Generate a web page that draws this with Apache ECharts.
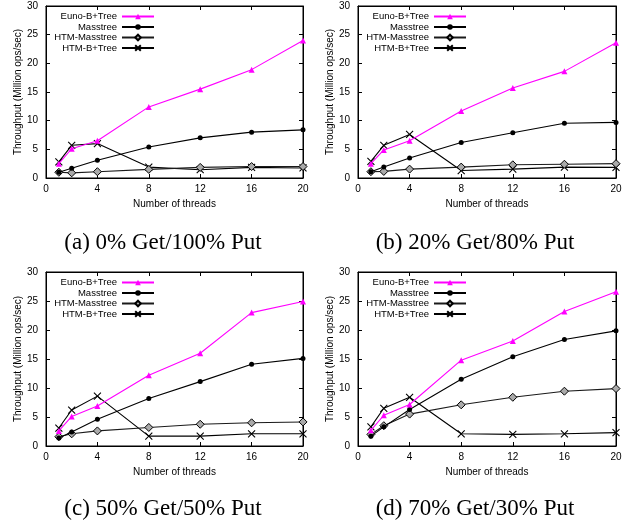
<!DOCTYPE html>
<html>
<head>
<meta charset="utf-8">
<script src="https://cdn.jsdelivr.net/npm/echarts@6/dist/echarts.min.js"></script>
<style>
  html, body { margin: 0; padding: 0; background: #fff; }
  #main { width: 627px; height: 523px; }
</style>
</head>
<body>
<div id="main"></div>
<script>
// threads on the x axis
const threads = [1, 2, 4, 8, 12, 16, 20]
const seriesNames = ['Euno-B+Tree', 'Masstree', 'HTM-Masstree', 'HTM-B+Tree']
const xTicks = [0, 4, 8, 12, 16, 20]
const yTicks = [0, 5, 10, 15, 20, 25, 30]

// (a) 0% Get / 100% Put
const eunoA = [2.5, 5.1, 6.5, 12.4, 15.5, 18.9, 24.0]
const massA = [1.0, 1.7, 3.1, 5.4, 7.0, 8.0, 8.4]
const htmMassA = [1.0, 0.9, 1.1, 1.5, 1.85, 2.0, 2.0]
const htmBtA = [2.8, 5.7, 6.0, 1.9, 1.45, 1.85, 1.75]

// (b) 20% Get / 80% Put
const eunoB = [2.5, 4.9, 6.5, 11.7, 15.7, 18.6, 23.6]
const massB = [1.1, 1.9, 3.5, 6.2, 7.9, 9.55, 9.7]
const htmMassB = [1.1, 1.15, 1.55, 1.9, 2.3, 2.4, 2.5]
const htmBtB = [2.9, 5.7, 7.6, 1.3, 1.55, 1.9, 1.85]

// (c) 50% Get / 50% Put
const eunoC = [2.6, 5.1, 6.9, 12.2, 16.0, 23.0, 24.9]
const massC = [1.4, 2.4, 4.6, 8.2, 11.1, 14.1, 15.1]
const htmMassC = [1.6, 2.1, 2.6, 3.2, 3.75, 4.0, 4.15]
const htmBtC = [3.1, 6.2, 8.6, 1.7, 1.7, 2.1, 2.1]

// (d) 70% Get / 30% Put
const eunoD = [2.7, 5.3, 7.15, 14.8, 18.1, 23.2, 26.6]
const massD = [1.7, 3.3, 6.3, 11.5, 15.4, 18.35, 19.85]
const htmMassD = [2.0, 3.5, 5.5, 7.1, 8.4, 9.45, 9.9]
const htmBtD = [3.3, 6.5, 8.4, 2.1, 2.0, 2.1, 2.3]

const captions = ['(a) 0% Get/100% Put', '(b) 20% Get/80% Put', '(c) 50% Get/50% Put', '(d) 70% Get/30% Put']
const panelData = [
  [eunoA, massA, htmMassA, htmBtA],
  [eunoB, massB, htmMassB, htmBtB],
  [eunoC, massC, htmMassC, htmBtC],
  [eunoD, massD, htmMassD, htmBtD]
]

// layout of the four panels
const W = 627
const panels = [
  { left: 46, top: 6, width: 257, height: 172, capX: 163, capY: 231 },
  { left: 358, top: 6, width: 258, height: 172, capX: 475, capY: 231 },
  { left: 46, top: 272, width: 257, height: 174, capX: 163, capY: 497 },
  { left: 358, top: 272, width: 258, height: 174, capX: 475, capY: 497 }
]

const sans = 'Liberation Sans'
const crossPath = 'path://M0,0L10,10M10,0L0,10'

const styles = [
  { color: '#ff00ff', symbol: 'triangle', symbolSize: 6, fill: '#ff00ff', border: 0 },
  { color: '#000', symbol: 'circle', symbolSize: 5, fill: '#000', border: 0 },
  { color: '#1a1a1a', symbol: 'diamond', symbolSize: 8, fill: '#aaa', border: 1 },
  { color: '#000', symbol: crossPath, symbolSize: 7, fill: '#000', border: 1.1 }
]

const grid = []
const xAxis = []
const yAxis = []
const series = []
const legend = []
const title = []

const tickStyle = { inside: true, length: 4, lineStyle: { color: '#000', width: 1 } }

panels.forEach((p, i) => {
  grid.push({
    left: p.left, top: p.top, width: p.width, height: p.height,
    show: true, borderColor: '#000', borderWidth: 1, backgroundColor: 'transparent'
  })
  // main axes
  xAxis.push({
    type: 'value', gridIndex: i, min: xTicks[0], max: xTicks[xTicks.length - 1], interval: 4,
    position: 'bottom',
    name: 'Number of threads', nameLocation: 'middle', nameGap: 21,
    nameTextStyle: { fontFamily: sans, fontSize: 10, color: '#000' },
    axisLine: { show: true, onZero: false, lineStyle: { color: '#000', width: 1 } },
    axisTick: tickStyle,
    axisLabel: { fontFamily: sans, fontSize: 10, color: '#000', margin: 6 },
    splitLine: { show: false }
  })
  yAxis.push({
    type: 'value', gridIndex: i, min: yTicks[0], max: yTicks[yTicks.length - 1], interval: 5,
    position: 'left',
    name: 'Throughput (Million ops/sec)', nameLocation: 'middle', nameGap: 23,
    nameTextStyle: { fontFamily: sans, fontSize: 10, color: '#000' },
    axisLine: { show: true, onZero: false, lineStyle: { color: '#000', width: 1 } },
    axisTick: tickStyle,
    axisLabel: { fontFamily: sans, fontSize: 10, color: '#000', margin: 8 },
    splitLine: { show: false }
  })
  // mirrored ticks on top and right
  xAxis.push({
    type: 'value', gridIndex: i, min: 0, max: 20, interval: 4, position: 'top',
    axisLine: { show: true, onZero: false, lineStyle: { color: '#000', width: 1 } },
    axisTick: tickStyle, axisLabel: { show: false }, splitLine: { show: false }
  })
  yAxis.push({
    type: 'value', gridIndex: i, min: 0, max: 30, interval: 5, position: 'right',
    axisLine: { show: true, onZero: false, lineStyle: { color: '#000', width: 1 } },
    axisTick: tickStyle, axisLabel: { show: false }, splitLine: { show: false }
  })

  panelData[i].forEach((vals, k) => {
    const s = styles[k]
    series.push({
      name: seriesNames[k],
      type: 'line',
      xAxisIndex: i * 2,
      yAxisIndex: i * 2,
      data: threads.map((t, j) => [t, vals[j]]),
      symbol: s.symbol,
      symbolSize: s.symbolSize,
      showAllSymbol: true,
      z: 10 - k,
      lineStyle: { color: s.color, width: 1.1 },
      itemStyle: { color: s.fill, borderColor: '#000', borderWidth: s.border },
      emphasis: { disabled: true }
    })
  })

  const rowTop = p.top + 5
  seriesNames.forEach((name, k) => {
    legend.push({
      data: [name],
      orient: 'horizontal',
      align: 'right',
      right: W - (p.left + 109),
      top: rowTop + k * 10.5,
      padding: 0,
      itemGap: 0,
      itemWidth: 32,
      itemHeight: 7,
      selectedMode: false,
      textStyle: { fontFamily: sans, fontSize: 9.5, color: '#000', lineHeight: 11 }
    })
  })

  title.push({
    text: captions[i],
    left: p.capX,
    top: p.capY,
    textAlign: 'center',
    padding: 0,
    textStyle: { fontFamily: 'Liberation Serif', fontSize: 23, fontWeight: 'normal', color: '#000' }
  })
})

const chart = echarts.init(document.getElementById('main'), null, { renderer: 'canvas' })
chart.setOption({
  backgroundColor: '#fff',
  animation: false,
  title: title,
  legend: legend,
  grid: grid,
  xAxis: xAxis,
  yAxis: yAxis,
  series: series
})
</script>
</body>
</html>
